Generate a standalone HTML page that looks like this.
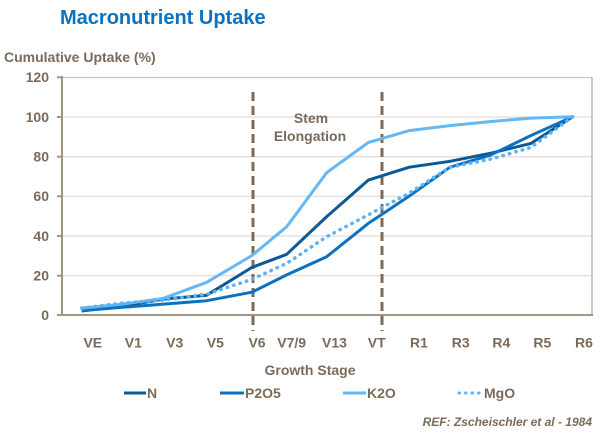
<!DOCTYPE html>
<html><head><meta charset="utf-8"><style>
html,body{margin:0;padding:0;background:#fff;}
svg{display:block;}
text{font-family:"Liberation Sans",Arial,sans-serif;font-weight:bold;}
</style></head><body>
<svg width="600" height="435" viewBox="0 0 600 435" xmlns="http://www.w3.org/2000/svg">
<rect width="600" height="435" fill="#fff"/>
<text x="60" y="24" font-size="20" fill="#0A72C0">Macronutrient Uptake</text>
<text x="4" y="62" font-size="14" fill="#7B6A58">Cumulative Uptake (%)</text>
<!-- grid -->
<g stroke="#DAD3CC" stroke-width="1">
<line x1="62" y1="117" x2="592" y2="117"/>
<line x1="62" y1="156.7" x2="592" y2="156.7"/>
<line x1="62" y1="196.3" x2="592" y2="196.3"/>
<line x1="62" y1="236" x2="592" y2="236"/>
<line x1="62" y1="275.7" x2="592" y2="275.7"/>
</g>
<line x1="62" y1="77.5" x2="592" y2="77.5" stroke="#CFC6BD" stroke-width="1.2"/>
<line x1="592" y1="77" x2="592" y2="315" stroke="#C2B7AC" stroke-width="1.5"/>
<!-- axes -->
<g stroke="#A49483" stroke-width="2">
<line x1="62" y1="76" x2="62" y2="316"/>
<line x1="61" y1="315" x2="593" y2="315"/>
<line x1="57" y1="77.3" x2="62" y2="77.3"/>
<line x1="57" y1="117" x2="62" y2="117"/>
<line x1="57" y1="156.7" x2="62" y2="156.7"/>
<line x1="57" y1="196.3" x2="62" y2="196.3"/>
<line x1="57" y1="236" x2="62" y2="236"/>
<line x1="57" y1="275.7" x2="62" y2="275.7"/>
<line x1="57" y1="315" x2="62" y2="315"/>
</g>
<g font-size="14" fill="#7B6A58" text-anchor="end">
<text x="49" y="82">120</text>
<text x="49" y="122">100</text>
<text x="49" y="161.5">80</text>
<text x="49" y="201">60</text>
<text x="49" y="241">40</text>
<text x="49" y="280.5">20</text>
<text x="49" y="320">0</text>
</g>
<!-- dashed verticals -->
<g stroke="#7D6A55" stroke-width="3" stroke-dasharray="9 5">
<line x1="253" y1="92" x2="253" y2="331"/>
<line x1="382" y1="92" x2="382" y2="331"/>
</g>
<g font-size="14" fill="#7B6A58" text-anchor="middle">
<text x="311" y="123">Stem</text>
<text x="310" y="141">Elongation</text>
</g>
<!-- series -->
<g fill="none" stroke-width="3" stroke-linejoin="round">
<polyline stroke="#0B5A96" points="81.7,311 122.7,306.1 163.5,299.1 206.7,295.2 252,267.4 286.7,254.3 326.7,216.6 368.3,180.1 409.3,167.2 450,161.3 490,153.4 531,143.4 572.7,116.7"/>
<polyline stroke="#0A72C0" points="81.7,310.6 122.7,307.3 163.5,304.1 206.7,300.7 252,292.2 286.7,274.9 326.7,256.7 368.3,223.4 409.3,196 450,167.2 490,155.3 531,135.5 572.7,116.7"/>
<polyline stroke="#66B8F5" points="81.7,308.1 122.7,304.1 163.5,298.3 206.7,282.3 252,255.5 286.7,226.7 326.7,172.6 368.3,142.5 409.3,130.6 450,125.6 490,121.6 531,118.1 572.7,116.7"/>
<polyline stroke="#5DB2F3" stroke-width="3.5" stroke-linecap="round" stroke-dasharray="0.5 6.2" points="81.7,308.1 122.7,303.1 163.5,300.1 206.7,294.2 252,279.3 286.7,263.4 326.7,236.7 368.3,214.8 409.3,193 450,167.2 490,159.3 531,147.4 572.7,116.7"/>
</g>
<!-- x labels -->
<g font-size="14" fill="#7B6A58" text-anchor="middle">
<text x="92.8" y="347.5">VE</text>
<text x="133.3" y="347.5">V1</text>
<text x="174.7" y="347.5">V3</text>
<text x="215.3" y="347.5">V5</text>
<text x="257" y="347.5">V6</text>
<text x="291.7" y="347.5">V7/9</text>
<text x="334.5" y="347.5">V13</text>
<text x="376.7" y="347.5">VT</text>
<text x="419" y="347.5">R1</text>
<text x="460.7" y="347.5">R3</text>
<text x="501.3" y="347.5">R4</text>
<text x="542.3" y="347.5">R5</text>
<text x="584" y="347.5">R6</text>
<text x="310" y="375">Growth Stage</text>
</g>
<!-- legend -->
<g stroke-width="3" fill="none">
<line x1="124" y1="393" x2="146" y2="393" stroke="#0B5A96"/>
<line x1="220" y1="393" x2="244" y2="393" stroke="#0A72C0"/>
<line x1="343" y1="393" x2="366" y2="393" stroke="#66B8F5"/>
<line x1="459" y1="393" x2="483" y2="393" stroke="#5DB2F3" stroke-width="3" stroke-linecap="round" stroke-dasharray="0.5 6"/>
</g>
<g font-size="14" fill="#7B6A58">
<text x="147" y="398">N</text>
<text x="245" y="398">P2O5</text>
<text x="367" y="398">K2O</text>
<text x="484" y="398">MgO</text>
</g>
<text x="592" y="426" font-size="12" font-style="italic" fill="#7B6A58" text-anchor="end">REF: Zscheischler et al - 1984</text>
</svg>
</body></html>
